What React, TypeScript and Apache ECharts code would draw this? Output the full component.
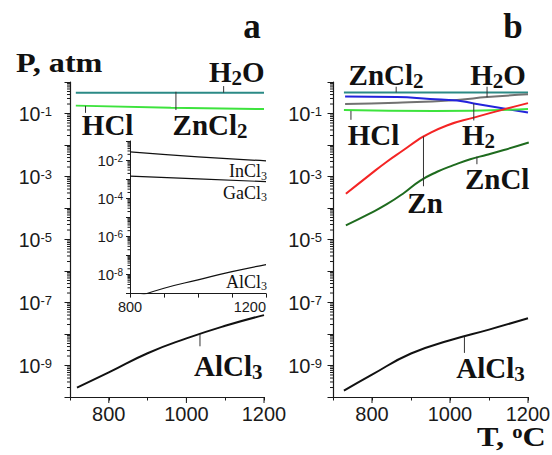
import React, { useEffect, useRef } from "react";
import * as echarts from "echarts";

// ---------- panel a : log10(P, atm) vs T (°C) ----------
const T_H2O_A = [715, 1200];
const LOGP_H2O_A = [-0.34, -0.34];
const T_HCL_A = [715, 960, 1200];
const LOGP_HCL_A = [-0.75, -0.82, -0.86];
const T_ALCL3_A = [718, 800, 900, 1000, 1100, 1200];
const LOGP_ALCL3_A = [-9.7, -9.22, -8.61, -8.14, -7.74, -7.4];

// ---------- inset of panel a ----------
const T_INCL3 = [800, 1000, 1200];
const LOGP_INCL3 = [-1.57, -1.83, -2.04];
const T_GACL3 = [800, 1000, 1200];
const LOGP_GACL3 = [-2.84, -2.99, -3.13];
const T_ALCL3_I = [800, 900, 1000, 1100, 1200];
const LOGP_ALCL3_I = [-9.3, -8.72, -8.28, -7.85, -7.48];

// ---------- panel b ----------
const T_ZNCL2_B = [728, 1200];
const LOGP_ZNCL2_B = [-0.33, -0.33];
const T_H2O_B = [731, 864, 1018, 1095, 1200];
const LOGP_H2O_B = [-0.7, -0.66, -0.57, -0.48, -0.39];
const T_H2_B = [731, 864, 949, 1018, 1061, 1138, 1200];
const LOGP_H2_B = [-0.46, -0.48, -0.54, -0.59, -0.68, -0.84, -0.97];
const T_HCL_B = [728, 960, 1200];
const LOGP_HCL_B = [-0.89, -0.92, -0.86];
const T_ZN_B = [733, 795, 838, 881, 915, 932, 992, 1061, 1138, 1200];
const LOGP_ZN_B = [-3.55, -2.94, -2.53, -2.16, -1.86, -1.73, -1.38, -1.13, -0.87, -0.67];
const T_ZNCL_B = [733, 795, 838, 881, 924, 967, 1009, 1052, 1095, 1138, 1202];
const LOGP_ZNCL_B = [-4.55, -4.17, -3.88, -3.53, -3.13, -2.85, -2.64, -2.45, -2.31, -2.16, -1.92];
const T_ALCL3_B = [728, 800, 900, 1000, 1100, 1200];
const LOGP_ALCL3_B = [-9.8, -9.29, -8.62, -8.2, -7.86, -7.5];

// ---------- axes ----------
const T_MIN = 700;
const T_MAX = 1200;
const T_LABELLED = [800, 1000, 1200];
const LOGP_MIN = -10;
const LOGP_MAX = 0;
const INSET_T_MIN = 800;
const INSET_T_MAX = 1200;
const INSET_T_LABELLED = [800, 1200];
const INSET_LOGP_MIN = -9;
const INSET_LOGP_MAX = -1;
const MINOR_MULTIPLIERS = [2, 3, 4, 5, 6, 7, 8, 9];

// ---------- annotations ----------
const LABELS_A = ["{m|H}{s|2}{m|O}", "{m|HCl}", "{m|ZnCl}{s|2}", "{m|AlCl}{s|3}"];
const LABEL_T_A = [1130, 797, 1061, 1108];
const LABEL_LOGP_A = [0.33, -1.37, -1.37, -9.02];
const LEADER_T_A = [1096, 973, 740, 1035];
const LEADER_FROM_A = [-0.13, -0.31, -0.76, -8.0];
const LEADER_TO_A = [-0.34, -0.89, -0.98, -8.39];

const LABELS_B = [
  "{m|ZnCl}{s|2}",
  "{m|H}{s|2}{m|O}",
  "{m|HCl}",
  "{m|H}{s|2}",
  "{m|Zn}",
  "{m|ZnCl}",
  "{m|AlCl}{s|3}",
];
const LABEL_T_B = [836, 1123, 804, 1073, 936, 1121, 1104];
const LABEL_LOGP_B = [0.22, 0.22, -1.69, -1.69, -3.83, -3.07, -9.07];
const LEADER_T_B = [862, 1095, 746, 1061, 932, 1069, 1037];
const LEADER_FROM_B = [-0.15, -0.15, -0.92, -0.68, -1.73, -2.37, -8.09];
const LEADER_TO_B = [-0.33, -0.48, -1.2, -1.22, -3.31, -2.61, -8.6];

const LABELS_I = ["{m|InCl}{s|3}", "{m|GaCl}{s|3}", "{m|AlCl}{s|3}"];
const LABEL_T_I = [1200, 1200, 1200];
const LABEL_LOGP_I = [-2.58, -3.71, -8.39];

// ---------- styling ----------
const SANS = "'Liberation Sans', Arial, sans-serif";
const SERIF = "'Liberation Serif', 'Times New Roman', serif";
const INK = "#111";
const AXIS = "#1a1a1a";
const COLORS = {
  teal: "#2b8a86",
  green: "#3de33d",
  blue: "#2323dc",
  gray: "#727272",
  red: "#f42424",
  dkgreen: "#1e6b1e",
  black: "#111",
};

const BIG_RICH = {
  m: { fontFamily: SERIF, fontWeight: "bold", fontSize: 29, lineHeight: 29, verticalAlign: "top", fill: INK },
  s: { fontFamily: SERIF, fontWeight: "bold", fontSize: 21, lineHeight: 41, verticalAlign: "middle", fill: INK },
};
const SMALL_RICH = {
  m: { fontFamily: SERIF, fontSize: 18, lineHeight: 18, verticalAlign: "top", fill: INK },
  s: { fontFamily: SERIF, fontSize: 12, lineHeight: 27, verticalAlign: "middle", fill: INK },
};

function lineSeries(gi: number, xs: number[], ys: number[], color: string, width = 2, smooth: number | boolean = 0.5) {
  return {
    type: "line",
    xAxisIndex: gi,
    yAxisIndex: gi,
    data: xs.map((x, i) => [x, ys[i]]),
    showSymbol: false,
    symbol: "none",
    smooth,
    silent: true,
    z: 3,
    lineStyle: { color, width },
    itemStyle: { color },
  };
}

function tickSeries(gi: number, data: number[][]) {
  return {
    type: "custom",
    xAxisIndex: gi,
    yAxisIndex: gi,
    silent: true,
    clip: false,
    z: 5,
    data,
    renderItem: (_p: any, api: any) => {
      const p = api.coord([api.value(0), api.value(1)]);
      const dir = api.value(2);
      const len = api.value(3);
      const shape =
        dir === 0
          ? { x1: p[0] - len, y1: p[1], x2: p[0], y2: p[1] }
          : { x1: p[0], y1: p[1], x2: p[0], y2: p[1] + len };
      return { type: "line", shape, style: { stroke: AXIS, lineWidth: 1 } };
    },
  };
}

function leaderSeries(gi: number, ts: number[], from: number[], to: number[]) {
  return {
    type: "custom",
    xAxisIndex: gi,
    yAxisIndex: gi,
    silent: true,
    clip: false,
    z: 4,
    data: ts.map((t, i) => [t, from[i], to[i]]),
    renderItem: (_p: any, api: any) => {
      const a = api.coord([api.value(0), api.value(1)]);
      const b = api.coord([api.value(0), api.value(2)]);
      return { type: "line", shape: { x1: a[0], y1: a[1], x2: b[0], y2: b[1] }, style: { stroke: "#333", lineWidth: 1 } };
    },
  };
}

function labelSeries(gi: number, texts: string[], ts: number[], ys: number[], rich: any, align: string, subOffset: number, dx = 0) {
  return {
    type: "custom",
    xAxisIndex: gi,
    yAxisIndex: gi,
    silent: true,
    clip: false,
    z: 6,
    data: ts.map((t, i) => [t, ys[i]]),
    renderItem: (params: any, api: any) => {
      const c = api.coord([api.value(0), api.value(1)]);
      const text = texts[params.dataIndex];
      const off = text.indexOf("{s|") >= 0 ? subOffset : 0;
      return {
        type: "text",
        x: c[0] + dx,
        y: c[1] + off,
        style: { text, rich, fill: INK, align, verticalAlign: "middle", textAlign: align, textVerticalAlign: "middle" },
      };
    },
  };
}

function yMinorTicks(xAt: number, fromDecade: number, toDecade: number, len: number) {
  const d: number[][] = [];
  for (let n = fromDecade; n < toDecade; n++) {
    for (const k of MINOR_MULTIPLIERS) d.push([xAt, n + Math.log10(k), 0, len]);
  }
  return d;
}

function xMajorTicks(yAt: number, values: number[], len: number) {
  return values.map((v) => [v, yAt, 1, len]);
}

function mainYAxis(gi: number, fontSize: number, margin: number) {
  return {
    type: "value",
    gridIndex: gi,
    min: LOGP_MIN,
    max: LOGP_MAX,
    interval: 1,
    splitLine: { show: false },
    axisLine: { show: true, onZero: false, lineStyle: { color: AXIS, width: 1.2 } },
    axisTick: { show: true, length: 5.5, lineStyle: { color: AXIS, width: 1 } },
    axisLabel: {
      show: true,
      margin,
      color: AXIS,
      fontFamily: SANS,
      fontSize,
      lineHeight: 18,
      formatter: (v: number) => (Math.round(v) % 2 !== 0 ? `10{s|${Math.round(v)}}` : ""),
      rich: { s: { fontFamily: SANS, fontSize: 13, lineHeight: 12, verticalAlign: "top", color: AXIS } },
    },
  };
}

function mainXAxis(gi: number) {
  return {
    type: "value",
    gridIndex: gi,
    min: T_MIN,
    max: T_MAX,
    interval: 100,
    splitLine: { show: false },
    axisLine: { show: true, onZero: false, lineStyle: { color: AXIS, width: 1.2 } },
    axisTick: { show: true, length: 3.5, lineStyle: { color: AXIS, width: 1 } },
    axisLabel: {
      show: true,
      margin: 7,
      color: AXIS,
      fontFamily: SANS,
      fontSize: 20,
      formatter: (v: number) => (T_LABELLED.indexOf(v) >= 0 ? String(v) : ""),
    },
  };
}

export default function App() {
  const ref = useRef<HTMLDivElement>(null);
  useEffect(() => {
    if (!ref.current) return;
    const chart = echarts.init(ref.current, null, { renderer: "svg" });
    const option: any = {
      animation: false,
      backgroundColor: "#fff",
      grid: [
        { left: 70, top: 82, width: 194, height: 315, outerBoundsMode: "none", containLabel: false },
        { left: 333, top: 82, width: 195, height: 315, outerBoundsMode: "none", containLabel: false },
        { left: 130, top: 141, width: 136, height: 152.6, outerBoundsMode: "none", containLabel: false },
      ],
      xAxis: [
        mainXAxis(0),
        mainXAxis(1),
        {
          type: "value",
          gridIndex: 2,
          min: INSET_T_MIN,
          max: INSET_T_MAX,
          interval: 100,
          splitLine: { show: false },
          axisLine: { show: true, onZero: false, lineStyle: { color: AXIS, width: 1 } },
          axisTick: { show: true, length: 4, lineStyle: { color: AXIS, width: 1 } },
          axisLabel: {
            show: true,
            margin: 6,
            color: AXIS,
            fontFamily: SANS,
            fontSize: 14.5,
            alignMaxLabel: "right",
            formatter: (v: number) => (INSET_T_LABELLED.indexOf(v) >= 0 ? String(v) : ""),
          },
        },
      ],
      yAxis: [
        mainYAxis(0, 19.5, 18),
        mainYAxis(1, 20, 11),
        {
          type: "value",
          gridIndex: 2,
          min: INSET_LOGP_MIN,
          max: INSET_LOGP_MAX,
          interval: 1,
          splitLine: { show: false },
          axisLine: { show: true, onZero: false, lineStyle: { color: AXIS, width: 1 } },
          axisTick: { show: true, length: 4, lineStyle: { color: AXIS, width: 1 } },
          axisLabel: {
            show: true,
            margin: 7,
            color: AXIS,
            fontFamily: SANS,
            fontSize: 15,
            lineHeight: 14,
            formatter: (v: number) => (Math.round(v) % 2 === 0 ? `10{s|${Math.round(v)}}` : ""),
            rich: { s: { fontFamily: SANS, fontSize: 10, lineHeight: 10, verticalAlign: "top", color: AXIS } },
          },
        },
      ],
      graphic: [
        {
          type: "text",
          x: 252,
          y: 26,
          style: { text: "a", fontFamily: SERIF, fontWeight: "bold", fontSize: 35, fill: INK, align: "center", verticalAlign: "middle", textAlign: "center", textVerticalAlign: "middle" },
        },
        {
          type: "text",
          x: 513,
          y: 26,
          style: { text: "b", fontFamily: SERIF, fontWeight: "bold", fontSize: 35, fill: INK, align: "center", verticalAlign: "middle", textAlign: "center", textVerticalAlign: "middle" },
        },
        {
          type: "text",
          x: 16,
          y: 63,
          scaleX: 1.15,
          style: { text: "P, atm", fontFamily: SERIF, fontWeight: "bold", fontSize: 28, fill: INK, align: "left", verticalAlign: "middle", textAlign: "left", textVerticalAlign: "middle" },
        },
        {
          type: "text",
          x: 477,
          y: 436,
          scaleX: 1.15,
          style: {
            text: "{m|T, }{s|o}{m|C}",
            fill: INK,
            align: "left",
            verticalAlign: "middle",
            textAlign: "left",
            textVerticalAlign: "middle",
            rich: {
              m: { fontFamily: SERIF, fontWeight: "bold", fontSize: 28, lineHeight: 26, verticalAlign: "top", fill: INK },
              s: { fontFamily: SERIF, fontWeight: "bold", fontSize: 18, lineHeight: 17, verticalAlign: "top", fill: INK },
            },
          },
        },
      ],
      series: [
        // panel a
        lineSeries(0, T_H2O_A, LOGP_H2O_A, COLORS.teal, 2, false),
        lineSeries(0, T_HCL_A, LOGP_HCL_A, COLORS.green, 2),
        lineSeries(0, T_ALCL3_A, LOGP_ALCL3_A, COLORS.black, 2),
        leaderSeries(0, LEADER_T_A, LEADER_FROM_A, LEADER_TO_A),
        labelSeries(0, LABELS_A, LABEL_T_A, LABEL_LOGP_A, BIG_RICH, "center", 6),
        tickSeries(0, yMinorTicks(T_MIN, LOGP_MIN, LOGP_MAX, 3).concat(xMajorTicks(LOGP_MIN, T_LABELLED, 6))),
        // panel b
        lineSeries(1, T_ZNCL2_B, LOGP_ZNCL2_B, COLORS.teal, 2, false),
        lineSeries(1, T_H2O_B, LOGP_H2O_B, COLORS.gray, 2),
        lineSeries(1, T_H2_B, LOGP_H2_B, COLORS.blue, 2),
        lineSeries(1, T_HCL_B, LOGP_HCL_B, COLORS.green, 2),
        lineSeries(1, T_ZN_B, LOGP_ZN_B, COLORS.red, 2),
        lineSeries(1, T_ZNCL_B, LOGP_ZNCL_B, COLORS.dkgreen, 2),
        lineSeries(1, T_ALCL3_B, LOGP_ALCL3_B, COLORS.black, 2),
        leaderSeries(1, LEADER_T_B, LEADER_FROM_B, LEADER_TO_B),
        labelSeries(1, LABELS_B, LABEL_T_B, LABEL_LOGP_B, BIG_RICH, "center", 6),
        tickSeries(1, yMinorTicks(T_MIN, LOGP_MIN, LOGP_MAX, 3).concat(xMajorTicks(LOGP_MIN, T_LABELLED, 6))),
        // inset
        lineSeries(2, T_INCL3, LOGP_INCL3, COLORS.black, 1.2),
        lineSeries(2, T_GACL3, LOGP_GACL3, COLORS.black, 1.2),
        lineSeries(2, T_ALCL3_I, LOGP_ALCL3_I, COLORS.black, 1.2),
        labelSeries(2, LABELS_I, LABEL_T_I, LABEL_LOGP_I, SMALL_RICH, "right", 4.5, 1),
        tickSeries(2, yMinorTicks(INSET_T_MIN, INSET_LOGP_MIN, INSET_LOGP_MAX, 2.5)),
      ],
    };
    chart.setOption(option);
    return () => chart.dispose();
  }, []);
  return <div ref={ref} style={{ position: "absolute", left: 0, top: 0, width: 552, height: 455 }} />;
}
